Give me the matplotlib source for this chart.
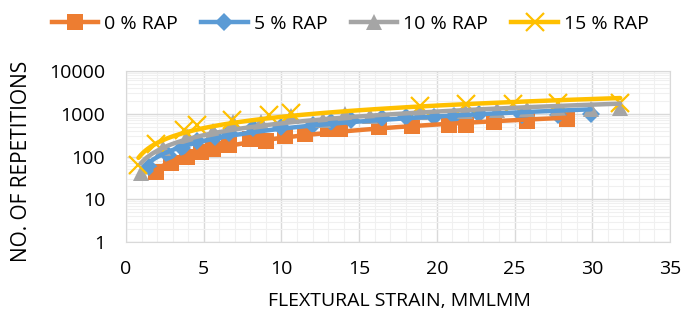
import numpy as np
import matplotlib
matplotlib.use("Agg")
import matplotlib.pyplot as plt
from matplotlib.lines import Line2D
from matplotlib.ticker import FixedLocator, NullFormatter

plt.rcParams['font.family'] = ['Open Sans', 'DejaVu Sans']

series_names = ["0 % RAP", "5 % RAP", "10 % RAP", "15 % RAP"]

x_rap0 = [1.9, 2.9, 3.9, 4.8, 5.6, 6.6, 8.0, 9.0, 10.2, 11.5, 13.0, 13.8, 16.3, 18.4, 20.8, 21.9, 23.7, 25.8, 28.4]
y_rap0 = [44, 72, 95, 125, 146, 190, 250, 230, 295, 330, 430, 430, 480, 510, 560, 560, 630, 660, 740]

x_rap5 = [1.5, 2.7, 3.6, 4.6, 5.7, 6.6, 8.2, 10.0, 12.0, 13.2, 14.5, 16.5, 18.0, 19.8, 21.1, 22.7, 25.5, 27.8, 29.9]
y_rap5 = [58, 110, 160, 225, 290, 360, 470, 500, 560, 630, 700, 800, 850, 830, 900, 1000, 930, 930, 1000]

x_rap10 = [0.95, 2.4, 3.9, 5.6, 6.9, 8.7, 10.6, 12.7, 14.1, 15.7, 18.9, 21.8, 23.9, 25.8, 27.8, 29.9, 31.8]
y_rap10 = [42, 160, 300, 390, 630, 630, 870, 700, 970, 900, 1070, 1150, 1200, 1300, 1350, 1300, 1400]

x_rap15 = [0.8, 1.9, 3.7, 4.6, 6.8, 9.2, 10.6, 18.9, 21.9, 24.9, 27.8, 31.8]
y_rap15 = [62, 200, 420, 560, 700, 950, 1050, 1500, 1650, 1700, 1750, 1800]

colors = ["#ED7D31", "#5B9BD5", "#A5A5A5", "#FFC000"]
markers = ["s", "D", "^", "x"]
msizes = [11, 9, 12, 13]

xs = [x_rap0, x_rap5, x_rap10, x_rap15]
ys = [y_rap0, y_rap5, y_rap10, y_rap15]

fig = plt.figure(figsize=(6.84, 3.24), dpi=100)
ax = fig.add_axes([126/684, 1-242/324, 544/684, 171/324])

ax.set_yscale('log')
ax.set_xlim(0, 35)
ax.set_ylim(1, 10000)

# grid
ax.xaxis.set_major_locator(FixedLocator(np.arange(0, 36, 5)))
ax.xaxis.set_minor_locator(FixedLocator(np.arange(0, 36, 1)))
ax.yaxis.set_major_locator(FixedLocator([1, 10, 100, 1000, 10000]))
minor_y = [m * 10**e for e in range(0, 4) for m in range(2, 10)]
ax.yaxis.set_minor_locator(FixedLocator(minor_y))
ax.yaxis.set_minor_formatter(NullFormatter())
ax.set_yticklabels(["1", "10", "100", "1000", "10000"])
ax.grid(which='major', color='#D9D9D9', linewidth=1.0, zorder=0)
ax.grid(which='minor', color='#F0F0F0', linewidth=0.8, zorder=0)
ax.set_axisbelow(True)
for s in ax.spines.values():
    s.set_color('#D9D9D9')
ax.tick_params(which='both', length=0, labelsize=14, colors='#000000')
ax.tick_params(axis='y', pad=15)
ax.tick_params(axis='x', pad=13)

for i in range(4):
    mew = 1.6 if markers[i] == 'x' else 0
    ax.plot(xs[i], ys[i], linestyle='none', marker=markers[i], markersize=msizes[i],
            color=colors[i], markeredgewidth=mew, zorder=3 + i, clip_on=False)

# power trendlines
for i in range(4):
    lx = np.log10(np.array(xs[i], float))
    ly = np.log10(np.array(ys[i], float))
    b, a = np.polyfit(lx, ly, 1)
    xx = np.linspace(min(xs[i]), max(xs[i]), 200)
    yy = 10**a * xx**b
    ax.plot(xx, yy, color=colors[i], linewidth=3.2, zorder=8 + i, solid_capstyle='round')

fig.text(399/684, 1 - 301/324, "FLEXTURAL STRAIN, MMLMM", fontsize=14, ha='center', va='center')
fig.text(22/684, 1 - 161/324, "NO. OF REPETITIONS", fontsize=15, ha='center', va='center',
         rotation=90)

handles = [Line2D([0], [0], color=colors[i], linewidth=3.2, marker=markers[i],
                  markersize=msizes[i], markeredgewidth=(1.6 if markers[i] == 'x' else 0))
           for i in range(4)]
fig.legend(handles, series_names, loc='center', bbox_to_anchor=(350/684, 1 - 24/324), ncol=4,
           frameon=False, fontsize=14, handlelength=2.4, columnspacing=1.2, handletextpad=0.3)

fig.savefig("out.png", dpi=100)
